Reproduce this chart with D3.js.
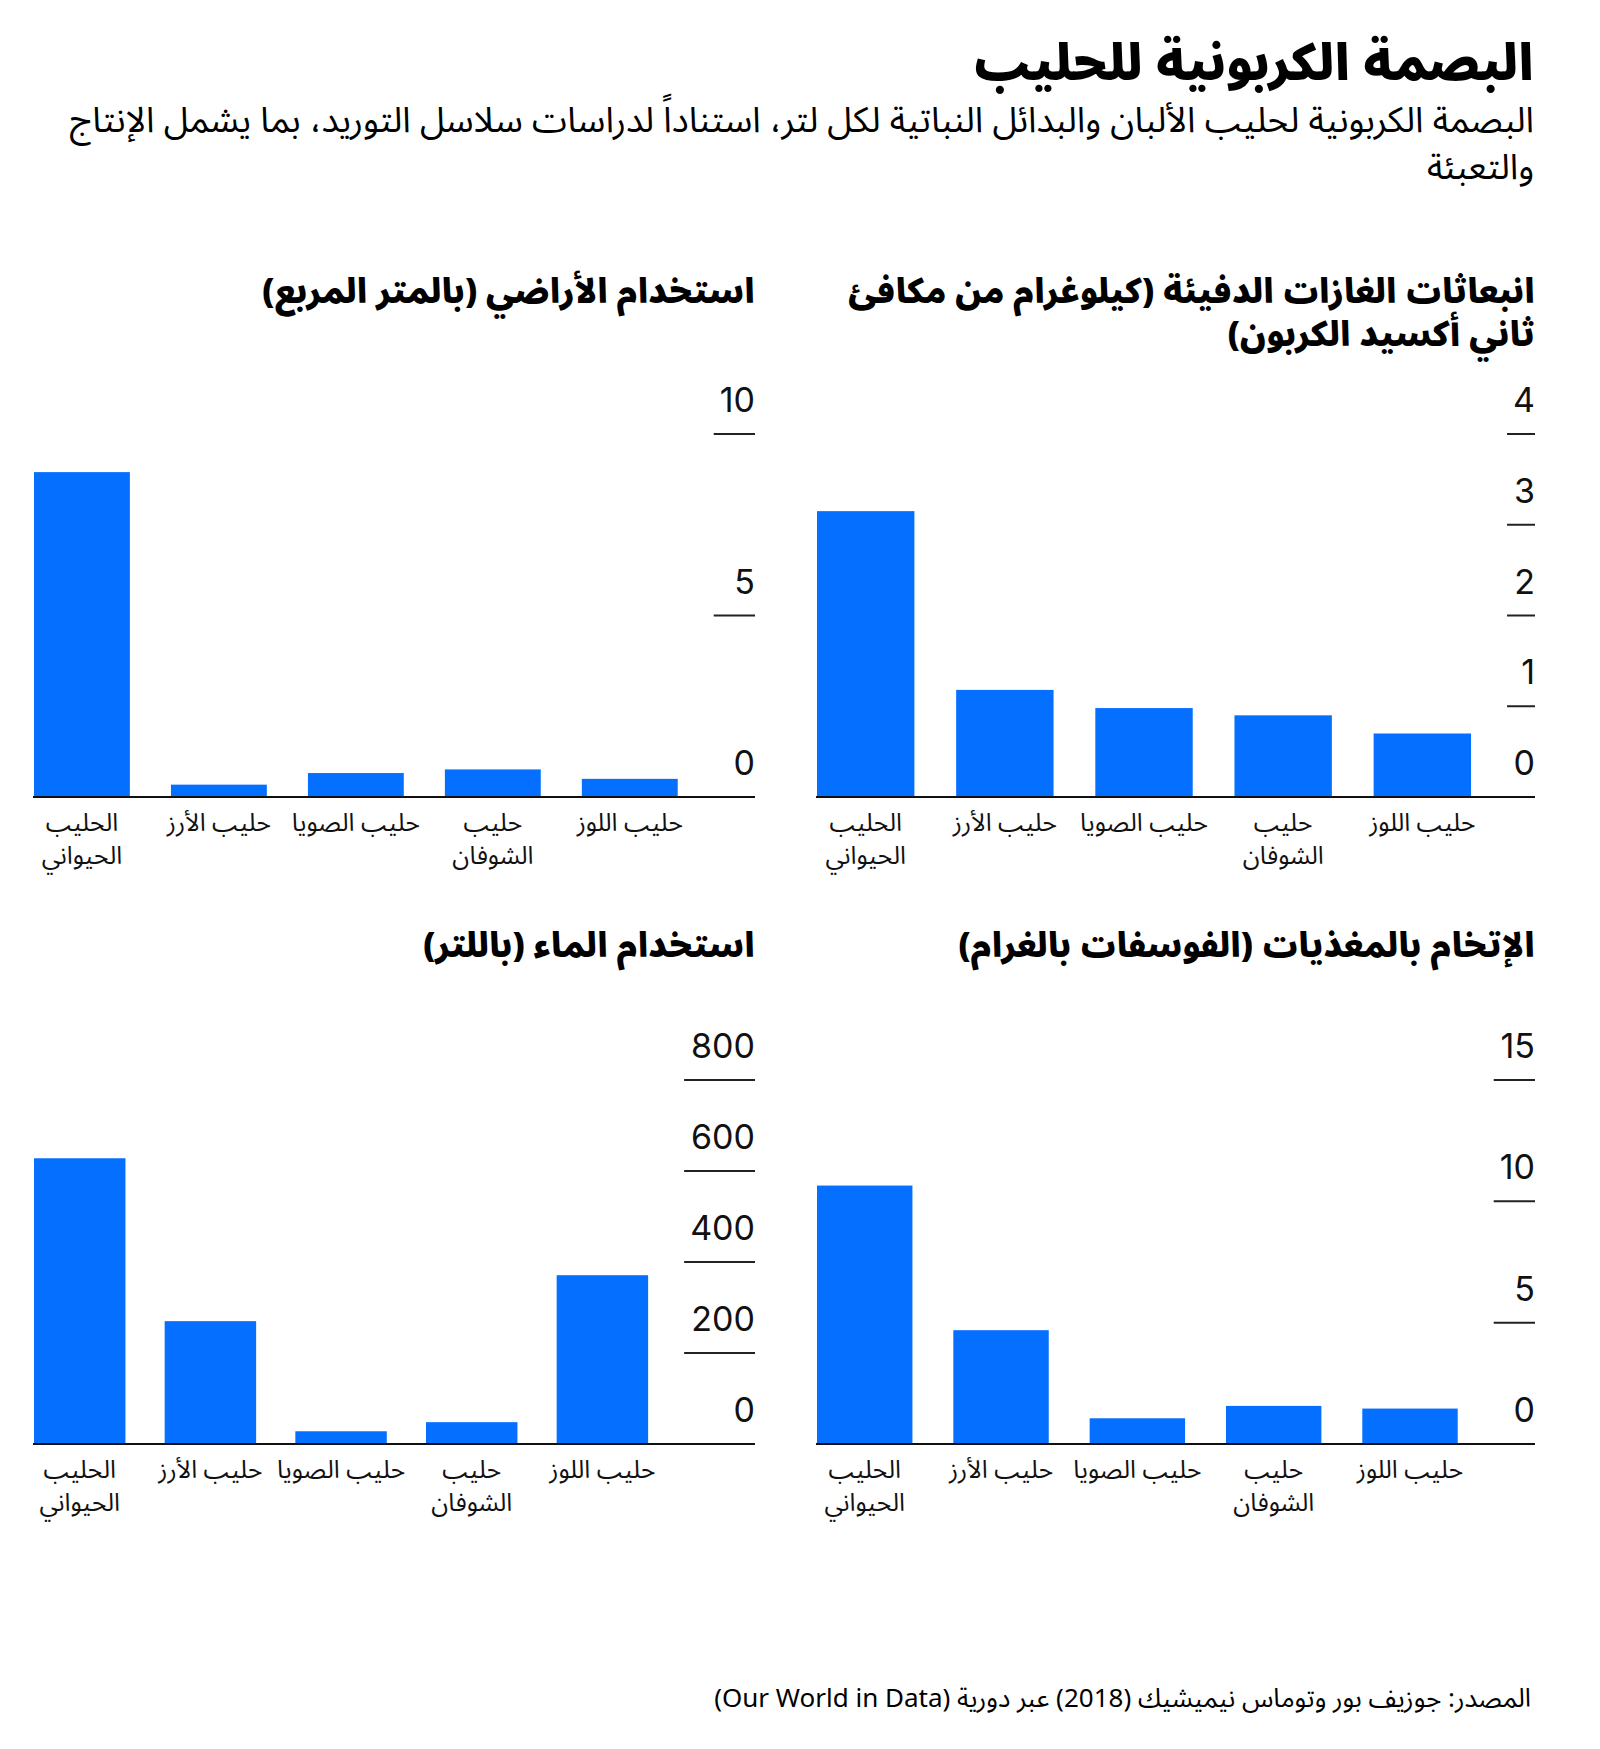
<!DOCTYPE html>
<html><head><meta charset="utf-8">
<script src="https://cdn.jsdelivr.net/npm/d3@7"></script>
<style>
body{margin:0;background:#fff}
svg{display:block}
.ar{font-family:"Noto Sans Arabic","Noto Kufi Arabic","DejaVu Sans",sans-serif}
.num{font-family:"Inter","Liberation Sans",sans-serif}
</style>
</head><body>
<svg id="chart" width="1600" height="1749"></svg>
<script>
// ---------- data ----------
const categories = ["الحليب الحيواني", "حليب الأرز", "حليب الصويا", "حليب الشوفان", "حليب اللوز"];
const categoryLines = [["الحليب", "الحيواني"], ["حليب الأرز"], ["حليب الصويا"], ["حليب", "الشوفان"], ["حليب اللوز"]];

const ghgValues   = [3.15, 1.18, 0.98, 0.90, 0.70];
const landValues  = [8.95, 0.34, 0.66, 0.76, 0.50];
const eutroValues = [10.65, 4.69, 1.06, 1.57, 1.46];
const waterValues = [628, 270, 28, 48, 371];

const ghgTicks   = [0, 1, 2, 3, 4];
const landTicks  = [0, 5, 10];
const eutroTicks = [0, 5, 10, 15];
const waterTicks = [0, 200, 400, 600, 800];

const ghgTitle   = ["انبعاثات الغازات الدفيئة (كيلوغرام من مكافئ", "ثاني أكسيد الكربون)"];
const landTitle  = ["استخدام الأراضي (بالمتر المربع)"];
const eutroTitle = ["الإتخام بالمغذيات (الفوسفات بالغرام)"];
const waterTitle = ["استخدام الماء (باللتر)"];

const mainTitle = "البصمة الكربونية للحليب";
const subtitleLines = ["البصمة الكربونية لحليب الألبان والبدائل النباتية لكل لتر، استناداً لدراسات سلاسل التوريد، بما يشمل الإنتاج", "والتعبئة"];
const sourceText = "المصدر: جوزيف بور وتوماس نيميشيك (2018) عبر دورية (Our World in Data)";

// ---------- layout ----------
const BLUE = "#0570ff";
const svg = d3.select("#chart");

svg.append("text").attr("class", "ar")
  .attr("x", 1534).attr("y", 80)
  .attr("direction", "rtl").attr("text-anchor", "start")
  .attr("font-size", 50).attr("font-weight", 900).attr("fill", "#000")
  .text(mainTitle);

subtitleLines.forEach((t, i) => {
  svg.append("text").attr("class", "ar")
    .attr("x", 1534).attr("y", 132 + i * 47)
    .attr("direction", "rtl").attr("text-anchor", "start")
    .attr("font-size", 35.5).attr("fill", "#000")
    .text(t);
});

svg.append("text").attr("class", "ar")
  .attr("x", 1531).attr("y", 1707)
  .attr("direction", "rtl").attr("text-anchor", "start")
  .attr("font-size", 26).attr("fill", "#000")
  .text(sourceText);

const panels = [
  { title: ghgTitle,   values: ghgValues,   ticks: ghgTicks,   left: 817, right: 1535, titleY: 303, top: 434,  base: 797 },
  { title: landTitle,  values: landValues,  ticks: landTicks,  left: 34,  right: 755,  titleY: 303, top: 434,  base: 797 },
  { title: eutroTitle, values: eutroValues, ticks: eutroTicks, left: 817, right: 1535, titleY: 957, top: 1080, base: 1444 },
  { title: waterTitle, values: waterValues, ticks: waterTicks, left: 34,  right: 755,  titleY: 957, top: 1080, base: 1444 }
];

panels.forEach(p => {
  const g = svg.append("g");

  // title
  p.title.forEach((t, i) => {
    g.append("text").attr("class", "ar")
      .attr("x", p.right).attr("y", p.titleY + i * 43)
      .attr("direction", "rtl").attr("text-anchor", "start")
      .attr("font-size", 34).attr("font-weight", 900).attr("fill", "#000")
      .text(t);
  });

  const y = d3.scaleLinear()
    .domain([0, d3.max(p.ticks)])
    .range([p.base, p.top]);

  // tick labels (measure widths)
  const labels = g.append("g").selectAll("text").data(p.ticks).join("text")
    .attr("class", "num")
    .attr("x", p.right).attr("y", d => y(d) - 22)
    .attr("text-anchor", "end")
    .attr("font-size", 34).attr("fill", "#111")
    .text(d => d3.format("d")(d));
  let maxW = 0;
  labels.each(function () { maxW = Math.max(maxW, this.getComputedTextLength()); });

  const tickLeft = p.right - maxW - 6;
  const barsRight = tickLeft - 36;
  const x = d3.scaleBand()
    .domain(categories)
    .range([p.left, barsRight])
    .paddingInner(0.3).paddingOuter(0);

  // short tick marks on the right
  g.selectAll("line.tick").data(p.ticks.filter(d => d !== 0)).join("line")
    .attr("class", "tick")
    .attr("x1", tickLeft).attr("x2", p.right)
    .attr("y1", d => y(d)).attr("y2", d => y(d))
    .attr("stroke", "#222").attr("stroke-width", 2);

  // bars
  g.selectAll("rect").data(p.values).join("rect")
    .attr("x", (d, i) => x(categories[i]))
    .attr("width", x.bandwidth())
    .attr("y", d => y(d))
    .attr("height", d => p.base - y(d))
    .attr("fill", BLUE);

  // baseline
  g.append("line")
    .attr("x1", p.left - 1).attr("x2", p.right)
    .attr("y1", y(0)).attr("y2", y(0))
    .attr("stroke", "#111").attr("stroke-width", 2);

  // category labels
  categories.forEach((c, i) => {
    const cx = x(c) + x.bandwidth() / 2;
    categoryLines[i].forEach((line, j) => {
      g.append("text").attr("class", "ar")
        .attr("x", cx)
        .attr("y", p.base + 34 + j * 33)
        .attr("direction", "rtl")
        .attr("text-anchor", "middle")
        .attr("font-size", 25).attr("fill", "#111")
        .text(line);
    });
  });
});
</script>
</body></html>
